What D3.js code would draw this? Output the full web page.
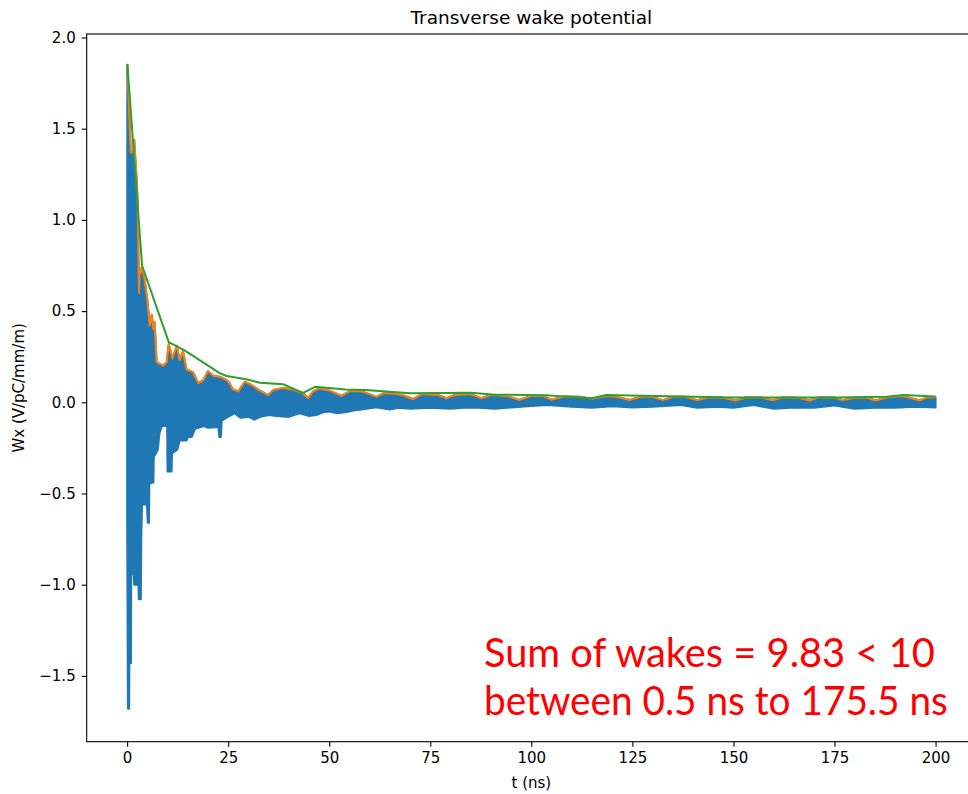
<!DOCTYPE html>
<html>
<head>
<meta charset="utf-8">
<script src="https://cdn.jsdelivr.net/npm/d3@7"></script>
<style>
  html, body { margin: 0; padding: 0; background: #fff; }
  svg text { font-family: "DejaVu Sans", sans-serif; }
</style>
</head>
<body>
<svg id="chart" width="968" height="794"></svg>
<script>
// Upper envelope of the wake (local maxima), t in ns
const peakT = [0.05, 0.9, 1.6, 1.75, 2.35, 2.6, 2.95, 3.1, 3.6, 4.3, 5.0, 5.6, 6.1, 6.5, 6.8, 7.3, 8.9, 9.8, 10.3, 11.2,
  12.3, 13.0, 13.8, 14.7, 16.3, 17.6, 18.8, 20.0, 21.3, 22.9, 24.0, 25.0, 26.2, 27.5, 29.1, 30.8, 32.4, 34.9, 36.1, 38.6,
  41.0, 43.5, 44.8, 46.0, 47.5, 50, 53, 55, 58, 60, 61.6, 63.5, 66, 68, 70.7, 73, 77, 79, 81, 85,
  87.6, 90, 94, 97, 100, 103, 105, 108, 112, 115, 118.5, 121, 124.3, 127, 130, 132.5, 135, 138, 141, 144,
  147, 150.6, 153, 157, 159.7, 162, 166, 168.8, 171, 175, 177, 180, 183, 185.2, 188, 192, 196, 198, 200];
const peakV = [1.85, 1.37, 1.37, 1.44, 1.22, 1.10, 0.60, 0.70, 0.74, 0.68, 0.56, 0.42, 0.48, 0.40, 0.44, 0.22, 0.20, 0.22, 0.32, 0.24,
  0.31, 0.23, 0.28, 0.18, 0.165, 0.105, 0.12, 0.17, 0.145, 0.14, 0.13, 0.115, 0.07, 0.06, 0.113, 0.095, 0.07, 0.04, 0.067, 0.078,
  0.07, 0.05, 0.022, 0.06, 0.075, 0.065, 0.035, 0.06, 0.06, 0.045, 0.03, 0.05, 0.048, 0.04, 0.018, 0.045, 0.04, 0.022, 0.04, 0.045,
  0.022, 0.04, 0.035, 0.013, 0.035, 0.035, 0.014, 0.032, 0.03, 0.02, 0.035, 0.03, 0.013, 0.03, 0.03, 0.012, 0.03, 0.03, 0.012, 0.028,
  0.026, 0.01, 0.026, 0.026, 0.011, 0.026, 0.025, 0.01, 0.026, 0.026, 0.012, 0.025, 0.025, 0.01, 0.028, 0.035, 0.01, 0.028, 0.028];

// Lower envelope of the oscillating wake
const troughT = [0.0, 0.2, 0.5, 0.55, 0.95, 1.0, 1.6, 1.75, 2.8, 2.9, 3.4, 3.5, 3.7, 4.9, 5.1, 5.4, 5.5, 6.5, 6.6, 7.6,
  8.0, 8.6, 9.9, 10.0, 11.0, 11.1, 12.4, 13.0, 14.7, 15.0, 16.0, 16.8, 19.0, 20.0, 22.6, 22.8, 23.2, 23.4, 24.5, 26.6,
  28, 30, 31.5, 33, 35, 37, 40, 42.7, 45, 46.8, 48.5, 50, 52, 54, 56, 58, 61.6, 65, 67, 70, 75, 80, 84, 87, 91, 95, 100,
  104, 110, 115, 120, 125, 130, 137, 141, 146, 150, 155, 160, 165, 170, 175, 180, 185, 190, 195, 200];
const troughV = [-0.6, -1.68, -1.68, -1.43, -1.43, -0.94, -0.94, -1.0, -1.0, -1.08, -1.08, -0.74, -0.56, -0.56, -0.66, -0.66, -0.445, -0.44, -0.3, -0.26,
  -0.17, -0.13, -0.13, -0.38, -0.38, -0.28, -0.26, -0.21, -0.21, -0.19, -0.19, -0.145, -0.13, -0.14, -0.135, -0.19, -0.19, -0.10, -0.085, -0.06,
  -0.085, -0.08, -0.095, -0.08, -0.07, -0.075, -0.08, -0.06, -0.075, -0.07, -0.055, -0.05, -0.06, -0.055, -0.045, -0.04, -0.027, -0.04, -0.03, -0.035, -0.03, -0.035, -0.028, -0.03, -0.035, -0.028, -0.02,
  -0.015, -0.025, -0.03, -0.022, -0.028, -0.025, -0.015, -0.03, -0.025, -0.03, -0.015, -0.035, -0.028, -0.03, -0.018, -0.035, -0.03, -0.03, -0.025, -0.028];

// Coarse envelope through the main peaks
const hullT = [0.05, 3.7, 10.3, 14.2, 22.9, 24.6, 29.5, 32.8, 38.6, 43.5, 46.5, 54, 59, 70, 85, 91, 104, 115, 118.5, 137, 150, 175, 188, 192, 200];
const hullV = [1.855, 0.75, 0.33, 0.285, 0.16, 0.144, 0.126, 0.107, 0.099, 0.052, 0.085, 0.07, 0.067, 0.05, 0.052, 0.042, 0.038, 0.022, 0.04, 0.032, 0.026, 0.027, 0.03, 0.04, 0.032];

const xTicks = [0, 25, 50, 75, 100, 125, 150, 175, 200];
const yTicks = [-1.5, -1.0, -0.5, 0.0, 0.5, 1.0, 1.5, 2.0];

const titleText = "Transverse wake potential";
const xLabel = "t (ns)";
const yLabel = "Wx (V/pC/mm/m)";
const noteLines = ["Sum of wakes = 9.83 < 10", "between 0.5 ns to 175.5 ns"];

const C_BLUE = "#1f77b4", C_ORANGE = "#ff7f0e", C_GREEN = "#2ca02c";

const svg = d3.select("#chart");
const axL = 86.7, axR = 976, axT = 34, axB = 741.7;

const x = d3.scaleLinear().domain([-10, 210]).range([axL, axR]);
const y = d3.scaleLinear().domain([-1.8607, 2.0192]).range([axB, axT]);

const plot = svg.append("g");

// Blue wake: band between lower and upper envelopes
const upper = peakT.map((t, i) => [t, peakV[i]]);
const lower = troughT.map((t, i) => [t, troughV[i]]);
const band = upper.concat(lower.slice().reverse());
const line = d3.line().x(d => x(d[0])).y(d => y(d[1]));

plot.append("path")
  .attr("d", line(band) + "Z")
  .attr("fill", C_BLUE)
  .attr("stroke", C_BLUE)
  .attr("stroke-width", 2)
  .attr("stroke-linejoin", "round");

plot.append("path")
  .attr("d", line(upper))
  .attr("fill", "none")
  .attr("stroke", C_ORANGE)
  .attr("stroke-width", 2)
  .attr("stroke-linejoin", "round");

plot.append("path")
  .attr("d", line(hullT.map((t, i) => [t, hullV[i]])))
  .attr("fill", "none")
  .attr("stroke", C_GREEN)
  .attr("stroke-width", 2)
  .attr("stroke-linejoin", "round");

// Axes frame (right edge lies outside the view)
svg.append("rect")
  .attr("x", axL).attr("y", axT)
  .attr("width", axR - axL).attr("height", axB - axT)
  .attr("fill", "none").attr("stroke", "#000").attr("stroke-width", 1.1);

const fmt = v => d3.format(".1f")(v).replace("-", "\u2212");

const xAxis = d3.axisBottom(x).tickValues(xTicks).tickSize(5).tickPadding(6).tickFormat(d3.format("d"));
const gx = svg.append("g").attr("transform", `translate(0,${axB})`).call(xAxis);
gx.select(".domain").remove();
gx.selectAll("line").attr("stroke-width", 1.1);
gx.selectAll("text").attr("font-size", 15).attr("font-family", "DejaVu Sans").attr("fill", "#000");

const yAxis = d3.axisLeft(y).tickValues(yTicks).tickSize(5).tickPadding(6).tickFormat(fmt);
const gy = svg.append("g").attr("transform", `translate(${axL},0)`).call(yAxis);
gy.select(".domain").remove();
gy.selectAll("line").attr("stroke-width", 1.1);
gy.selectAll("text").attr("font-size", 15).attr("font-family", "DejaVu Sans").attr("fill", "#000");

svg.append("text")
  .attr("x", (axL + axR) / 2).attr("y", 24)
  .attr("text-anchor", "middle").attr("font-size", 18.5)
  .text(titleText);

svg.append("text")
  .attr("x", (axL + axR) / 2).attr("y", 788)
  .attr("text-anchor", "middle").attr("font-size", 15)
  .text(xLabel);

svg.append("text")
  .attr("transform", `translate(24,${(axT + axB) / 2}) rotate(-90)`)
  .attr("text-anchor", "middle").attr("font-size", 15)
  .text(yLabel);

// Annotation, squeezed horizontally to its set width
const noteWidths = [451, 464];
noteLines.forEach((s, i) => {
  const t = svg.append("text")
    .style("font-family", "Lato, 'Open Sans', sans-serif")
    .attr("font-size", 41)
    .attr("fill", "#ff0000")
    .text(s);
  const w = t.node().getComputedTextLength();
  t.attr("transform", `translate(484,${667 + i * 48}) scale(${noteWidths[i] / w},1)`);
});
</script>
</body>
</html>
